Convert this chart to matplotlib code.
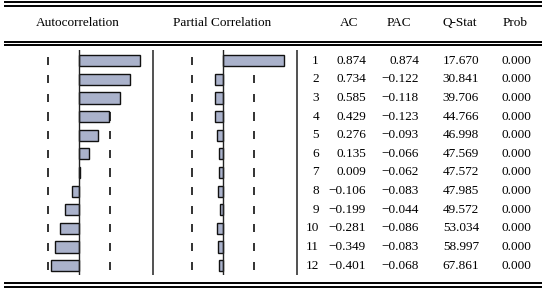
import numpy as np
import matplotlib
matplotlib.use('Agg')
from matplotlib import pyplot as plt

# correlogram values (n = 20 observations)
lags = np.arange(1, 13)
ac = [0.874, 0.734, 0.585, 0.429, 0.276, 0.135, 0.009, -0.106, -0.199, -0.281, -0.349, -0.401]
pac = [0.874, -0.122, -0.118, -0.123, -0.093, -0.066, -0.062, -0.083, -0.044, -0.086, -0.083, -0.068]
qstat = [17.670, 30.841, 39.706, 44.766, 46.998, 47.569, 47.572, 47.985, 49.572, 53.034, 58.997, 67.861]
prob = [0.000] * 12
headers = ['AC', 'PAC', 'Q-Stat', 'Prob']
nobs = 20
band = 2.0 / np.sqrt(nobs)

plt.rcParams['font.family'] = ['Liberation Serif', 'DejaVu Serif']
fs = 9.5
W, H = 546.0, 290.0
bar_color = '#aab2cb'

def fmt(v):
    return f'{v:.3f}'.replace('-', '\u2212')

fig = plt.figure(figsize=(W / 100, H / 100), dpi=100)

# full figure layer in pixel units for rules and headers
frame = fig.add_axes([0, 0, 1, 1])
frame.set_xlim(0, W)
frame.set_ylim(H, 0)
frame.axis('off')
for y in [2.0, 5.7, 41.8, 45.0, 283.0, 287.0]:
    frame.plot([4, 542], [y, y], color='black', linewidth=1.4, solid_capstyle='butt')
frame.text(78, 23, 'Autocorrelation', ha='center', va='center', fontsize=fs)
frame.text(222, 23, 'Partial Correlation', ha='center', va='center', fontsize=fs)
hx = [349, 399, 460, 515]
for x, h in zip(hx, headers):
    frame.text(x, 23, h, ha='center', va='center', fontsize=fs)
frame.vlines([152.5, 296.5], 50, 275, color='#333333', linewidth=1.2)

# row mapping shared by the panels
y_top, y_bot = 50.0, 275.0
ylim = (12.5, 0.43)

def panel(x_zero, values):
    scale = 69.4
    xl = (-1.1, 1.05)
    left = x_zero + xl[0] * scale
    width = (xl[1] - xl[0]) * scale
    ax = fig.add_axes([left / W, 1 - y_bot / H, width / W, (y_bot - y_top) / H])
    ax.set_xlim(*xl)
    ax.set_ylim(*ylim)
    ax.axis('off')
    for b in (-band, band):
        ax.vlines(np.full(len(lags), b), lags - 0.22, lags + 0.22, color='#222222', linewidth=1.3, zorder=1)
    ax.axvline(0, color='#222222', linewidth=1.0, zorder=4)
    ax.barh(lags, values, height=0.6, color=bar_color, edgecolor='#111111', linewidth=1.0, zorder=3)
    return ax

panel(79.3, ac)
panel(223.3, pac)

# table columns
tab = fig.add_axes([296.5 / W, 1 - y_bot / H, (W - 296.5) / W, (y_bot - y_top) / H])
tab.set_xlim(296.5, W)
tab.set_ylim(*ylim)
tab.axis('off')
for i, lag in enumerate(lags):
    tab.text(319, lag, str(lag), ha='right', va='center', fontsize=fs)
    tab.text(366, lag, fmt(ac[i]), ha='right', va='center', fontsize=fs)
    tab.text(419, lag, fmt(pac[i]), ha='right', va='center', fontsize=fs)
    tab.text(479, lag, f'{qstat[i]:.3f}', ha='right', va='center', fontsize=fs)
    tab.text(531, lag, f'{prob[i]:.3f}', ha='right', va='center', fontsize=fs)

fig.savefig('out.png', dpi=100)
